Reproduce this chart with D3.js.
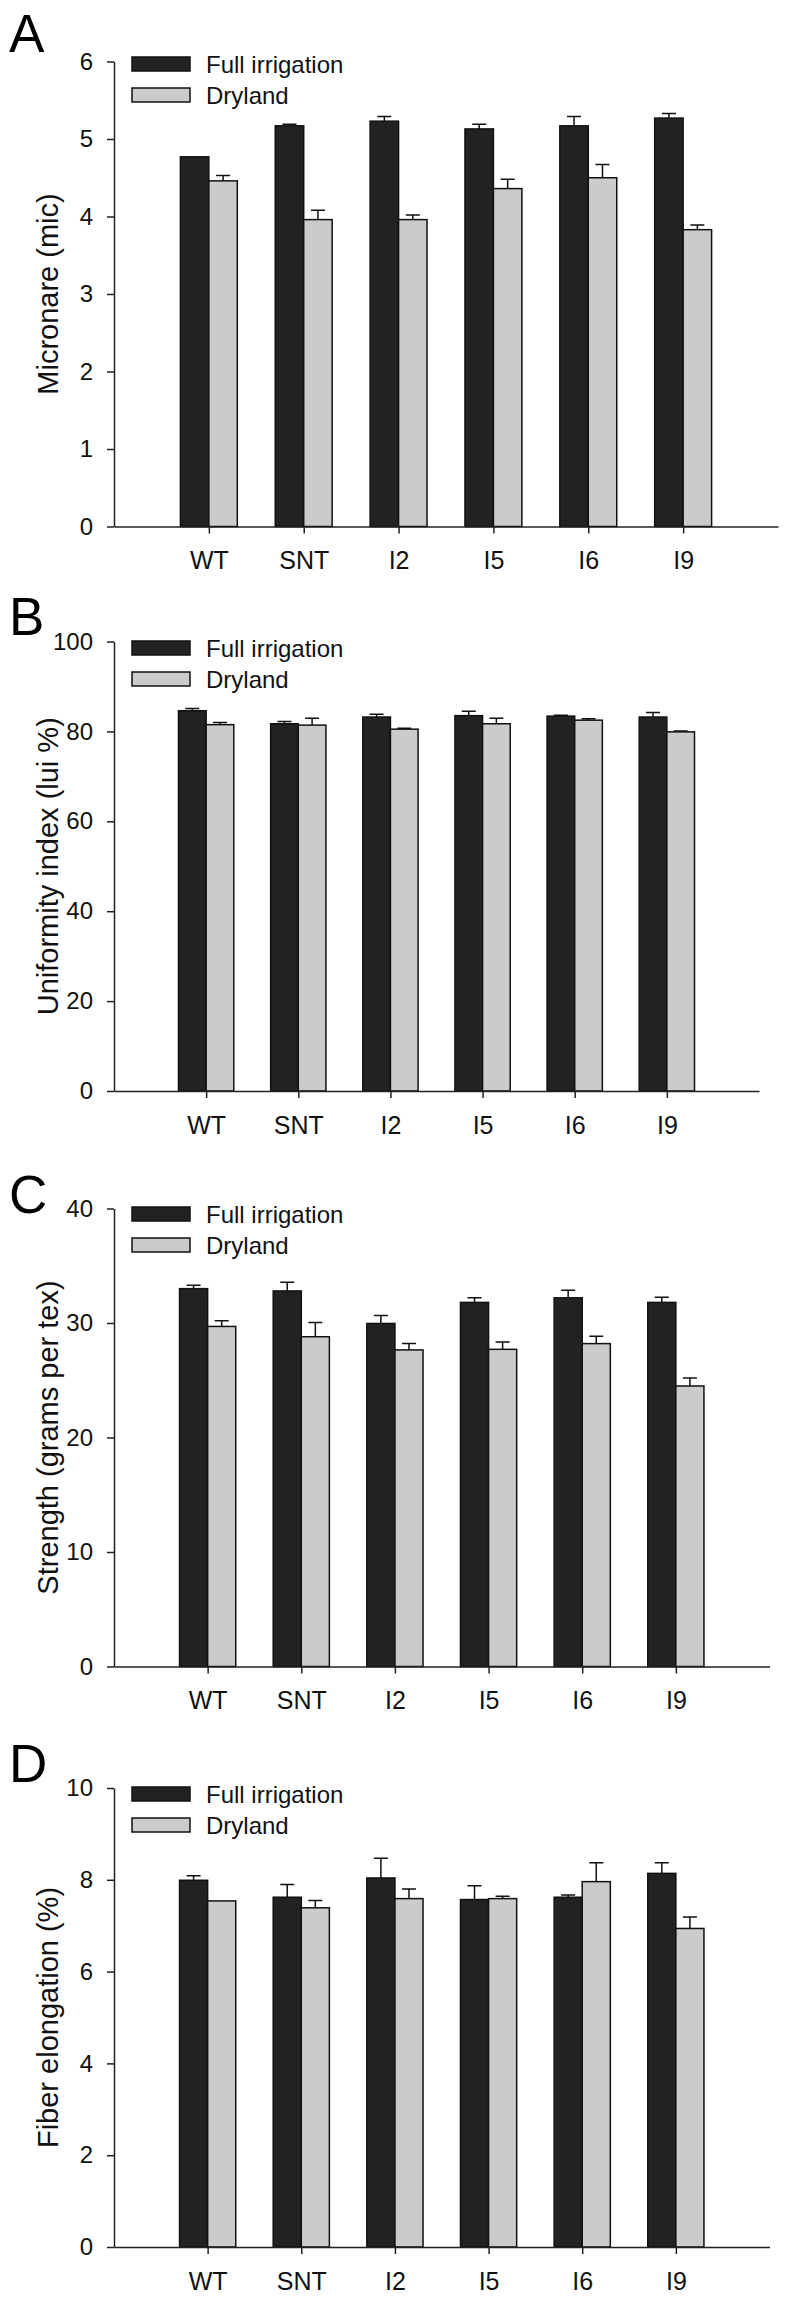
<!DOCTYPE html>
<html>
  <head>
    <meta charset="utf-8">
    <title>Fiber quality</title>
    <style>
      body { margin: 0; background: #fff; }
      svg { display: block; font-family: "Liberation Sans", Arial, sans-serif; }
      .axis path, .axis line { stroke: #222; stroke-width: 1.5; }
      .axis text { fill: #111; }
      .bar { stroke: #111; stroke-width: 1.5; }
      .err { stroke: #111; stroke-width: 1.5; fill: none; }
    </style>
  </head>
  <body>
    <script src="https://cdnjs.cloudflare.com/ajax/libs/d3/7.8.5/d3.min.js"></script>
    <script>
    var categories = ["WT", "SNT", "I2", "I5", "I6", "I9"];
    var seriesNames = ["Full irrigation", "Dryland"];

    // A - micronaire
    var micFull = [4.77, 5.17, 5.23, 5.13, 5.17, 5.27];
    var micFullErr = [0, 0.02, 0.06, 0.06, 0.12, 0.06];
    var micDry = [4.46, 3.96, 3.96, 4.36, 4.50, 3.83];
    var micDryErr = [0.07, 0.12, 0.06, 0.12, 0.17, 0.06];
    var micTicks = [0, 1, 2, 3, 4, 5, 6];

    // B - uniformity index
    var uiFull = [84.6, 81.7, 83.2, 83.5, 83.4, 83.2];
    var uiFullErr = [0.5, 0.5, 0.6, 1.0, 0.2, 1.0];
    var uiDry = [81.5, 81.4, 80.5, 81.7, 82.5, 79.9];
    var uiDryErr = [0.5, 1.5, 0.2, 1.2, 0.3, 0.2];
    var uiTicks = [0, 20, 40, 60, 80, 100];

    // C - strength
    var strFull = [33.0, 32.8, 29.96, 31.8, 32.2, 31.8];
    var strFullErr = [0.3, 0.75, 0.7, 0.4, 0.65, 0.45];
    var strDry = [29.7, 28.8, 27.65, 27.7, 28.2, 24.5];
    var strDryErr = [0.5, 1.25, 0.55, 0.65, 0.65, 0.7];
    var strTicks = [0, 10, 20, 30, 40];

    // D - elongation
    var elFull = [7.99, 7.62, 8.04, 7.57, 7.62, 8.14];
    var elFullErr = [0.1, 0.28, 0.43, 0.3, 0.05, 0.23];
    var elDry = [7.54, 7.39, 7.59, 7.59, 7.96, 6.94];
    var elDryErr = [0, 0.16, 0.21, 0.05, 0.41, 0.25];
    var elTicks = [0, 2, 4, 6, 8, 10];

    var width = 786;
    var height = 2300;
    var axisX = 114;

    var svg = d3.select("body")
        .append("svg")
        .attr("width", width)
        .attr("height", height);

    var panels = [
      { letter: "A", title: "Micronare (mic)", full: micFull, fullErr: micFullErr,
        dry: micDry, dryErr: micDryErr, ticks: micTicks,
        top: 61.5, bottom: 526.5, right: 778, letterY: 52, legendY: 57 },
      { letter: "B", title: "Uniformity index (lui %)", full: uiFull, fullErr: uiFullErr,
        dry: uiDry, dryErr: uiDryErr, ticks: uiTicks,
        top: 641.5, bottom: 1091, right: 759, letterY: 635, legendY: 641 },
      { letter: "C", title: "Strength (grams per tex)", full: strFull, fullErr: strFullErr,
        dry: strDry, dryErr: strDryErr, ticks: strTicks,
        top: 1208.5, bottom: 1666.5, right: 769.5, letterY: 1213, legendY: 1207 },
      { letter: "D", title: "Fiber elongation (%)", full: elFull, fullErr: elFullErr,
        dry: elDry, dryErr: elDryErr, ticks: elTicks,
        top: 1788, bottom: 2247, right: 769.5, letterY: 1782, legendY: 1787 }
    ];

    panels.forEach(drawPanel);

    function drawPanel(p) {
      var g = svg.append("g");

      var x = d3.scalePoint()
          .domain(categories)
          .range([axisX, p.right])
          .padding(1);
      var barW = x.step() * 0.3;

      var y = d3.scaleLinear()
          .domain([0, d3.max(p.ticks)])
          .range([p.bottom, p.top]);

      // bars: dark to the left of the tick, light to the right
      var series = [
        { vals: p.full, errs: p.fullErr, fill: "#222222", off: -barW },
        { vals: p.dry, errs: p.dryErr, fill: "#cbcbcb", off: 0 }
      ];

      series.forEach(function(s) {
        var rows = categories.map(function(c, i) {
          return { cat: c, v: s.vals[i], e: s.errs[i] };
        });

        g.selectAll(null)
            .data(rows)
            .enter()
            .append("rect")
            .attr("class", "bar")
            .attr("x", function(d) { return x(d.cat) + s.off; })
            .attr("y", function(d) { return y(d.v); })
            .attr("width", barW)
            .attr("height", function(d) { return y(0) - y(d.v); })
            .attr("fill", s.fill);

        var eb = rows.filter(function(d) { return d.e > 0; });
        g.selectAll(null)
            .data(eb)
            .enter()
            .append("path")
            .attr("class", "err")
            .attr("d", function(d) {
              var cx = x(d.cat) + s.off + barW / 2;
              var y0 = y(d.v), y1 = y(d.v + d.e);
              return "M" + cx + "," + y0 + "V" + y1 + "M" + (cx - 7) + "," + y1 + "H" + (cx + 7);
            });
      });

      // axes
      var yAxis = d3.axisLeft(y)
          .tickValues(p.ticks)
          .tickSize(7)
          .tickSizeOuter(0)
          .tickPadding(14)
          .tickFormat(d3.format("d"));
      g.append("g")
          .attr("class", "axis")
          .attr("transform", "translate(" + axisX + ",0)")
          .call(yAxis)
          .selectAll("text")
          .style("font-size", "24px");

      var xAxis = d3.axisBottom(x)
          .tickSize(7)
          .tickSizeOuter(0)
          .tickPadding(18);
      g.append("g")
          .attr("class", "axis")
          .attr("transform", "translate(0," + p.bottom + ")")
          .call(xAxis)
          .selectAll("text")
          .style("font-size", "25px");

      // axis title
      g.append("text")
          .attr("transform", "translate(58," + ((p.top + p.bottom) / 2) + ") rotate(-90)")
          .attr("text-anchor", "middle")
          .style("font-size", "29px")
          .attr("fill", "#111")
          .text(p.title);

      // panel letter
      g.append("text")
          .attr("x", 9)
          .attr("y", p.letterY)
          .style("font-size", "53px")
          .attr("fill", "#000")
          .text(p.letter);

      // legend
      var leg = g.selectAll(".leg")
          .data(seriesNames)
          .enter()
          .append("g")
          .attr("transform", function(d, i) {
            return "translate(132," + (p.legendY + i * 31) + ")";
          });
      leg.append("rect")
          .attr("class", "bar")
          .attr("width", 58)
          .attr("height", 14)
          .attr("fill", function(d, i) { return i === 0 ? "#222222" : "#cbcbcb"; });
      leg.append("text")
          .attr("x", 74)
          .attr("y", 16)
          .style("font-size", "24px")
          .attr("fill", "#111")
          .text(function(d) { return d; });
    }
    </script>
  </body>
</html>
